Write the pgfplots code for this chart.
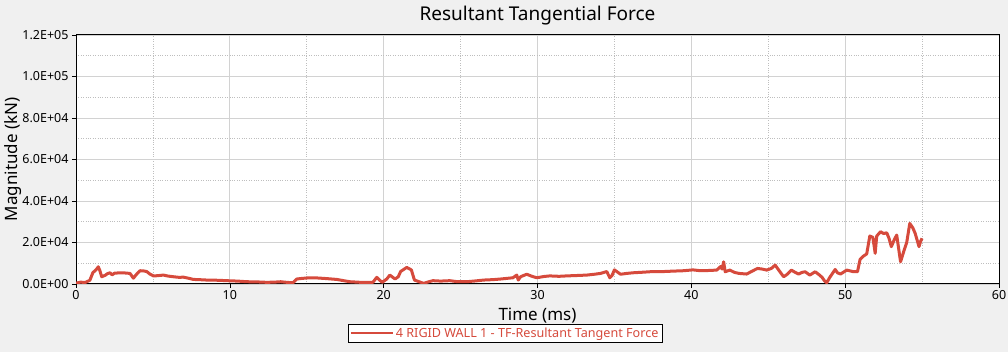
\documentclass[border=0pt]{standalone}
\usepackage{pgfplots}
\pgfplotsset{compat=1.18}
\usepackage{fontspec}
\setmainfont{Noto Sans}
\definecolor{bg}{RGB}{240,240,240}
\definecolor{curve}{RGB}{214,74,60}
\definecolor{majgrid}{RGB}{210,210,210}
\definecolor{mingrid}{RGB}{190,190,190}
\begin{document}
\begin{tikzpicture}[x=1pt,y=1pt]
\fill[bg] (-76,-68) rectangle (932,284);
\begin{axis}[
  at={(0,0)}, anchor=south west,
  scale only axis, width=923pt, height=249pt,
  xmin=0, xmax=60, ymin=0, ymax=120000,
  axis background/.style={fill=white},
  xtick={0,10,...,60},
  minor xtick={5,15,...,55},
  ytick={0,20000,...,120000},
  minor ytick={10000,30000,...,110000},
  yticklabels={0.0E+00,2.0E+04,4.0E+04,6.0E+04,8.0E+04,1.0E+05,1.2E+05},
  scaled y ticks=false,
  grid=both,
  major grid style={majgrid, line width=0.8pt},
  minor grid style={mingrid, dotted, line width=0.7pt},
  tick style={black, line width=0.6pt},
  major tick length=4pt, minor tick length=0pt,
  tick align=outside,
  xtick pos=bottom, ytick pos=left,
  axis line style={black, line width=1pt},
  ticklabel style={font=\fontsize{12.5}{14}\selectfont},
  /pgf/number format/assume math mode=true,
  xticklabel style={yshift=1pt},
  title={Resultant Tangential Force},
  title style={font=\fontsize{19}{22}\selectfont, yshift=0pt},
  xlabel={Time (ms)},
  xlabel style={font=\fontsize{17}{20}\selectfont, yshift=-1pt},
  ylabel={Magnitude (kN)},
  ylabel style={font=\fontsize{17}{20}\selectfont, yshift=-6pt},
  legend style={at={(0.465,-0.161)}, anchor=north, draw=black, fill=white,
    font=\fontsize{12.6}{14}\selectfont, text=curve, inner sep=1.5pt,
    legend cell align=left},
  legend image code/.code={\draw[#1, line width=2pt] (0pt,0pt) -- (42pt,0pt);},
]
\addplot[curve, line width=3pt, line join=round] coordinates {
(0,400)(0.3,900)(0.6,700)(0.9,1800)(1.1,5500)(1.3,6800)(1.45,8300)(1.55,6500)(1.67,3500)(1.9,4200)(2.05,5000)(2.21,5400)(2.35,4400)(2.5,5200)(2.86,5400)(3.2,5300)(3.51,5100)(3.73,2800)(3.95,4800)(4.16,6400)(4.4,6300)(4.6,6000)(4.8,4800)(5.03,3900)(5.3,4000)(5.68,4300)(6.0,3800)(6.33,3500)(6.7,3200)(6.98,3300)(7.3,2800)(7.63,2200)(8.0,2100)(8.5,1900)(9.2,1800)(9.8,1600)(10.5,1400)(11.1,1100)(11.8,1000)(12.4,800)(12.9,900)(13.3,1100)(13.7,800)(14.1,600)(14.35,2400)(14.7,2700)(15.2,3000)(15.7,2900)(16.3,2600)(16.95,2200)(17.4,1600)(17.8,1100)(18.5,800)(19.3,800)(19.55,3200)(19.75,1800)(19.9,800)(20.2,2400)(20.4,4300)(20.74,2400)(20.95,3500)(21.1,6000)(21.5,8000)(21.8,6800)(22.0,1900)(22.3,1100)(22.6,300)(22.9,1000)(23.2,1600)(23.7,1400)(24.3,1600)(24.8,1100)(25.4,1100)(26.0,1500)(26.5,1900)(27.1,2100)(27.6,2400)(28.0,2700)(28.4,3000)(28.65,4300)(28.75,1900)(28.9,3500)(29.3,4700)(29.6,3800)(29.95,3000)(30.4,3600)(30.8,3900)(31.4,3700)(31.9,3900)(32.6,4100)(33.2,4300)(33.7,4700)(34.1,5100)(34.5,6000)(34.7,3000)(34.85,4200)(35.0,6800)(35.4,4700)(35.8,5100)(36.2,5400)(36.9,5700)(37.5,6000)(38.2,6000)(38.8,6200)(39.5,6400)(40.1,6800)(40.6,6400)(41.1,6500)(41.65,6700)(41.9,8400)(42.0,7200)(42.1,10700)(42.2,5900)(42.5,6700)(42.8,5600)(43.1,5100)(43.6,4800)(43.9,6000)(44.3,7500)(44.6,7200)(44.9,6700)(45.2,7500)(45.45,9100)(45.7,6500)(46.0,3500)(46.2,4500)(46.5,6700)(46.75,5600)(46.97,4800)(47.2,5600)(47.4,5900)(47.7,4300)(48.05,5900)(48.3,4500)(48.5,3200)(48.65,1600)(48.8,600)(49.0,3200)(49.35,7000)(49.5,5400)(49.7,4800)(50.1,6700)(50.5,6000)(50.8,5900)(50.97,11900)(51.2,13500)(51.4,14500)(51.6,23100)(51.8,22500)(51.95,14800)(52.05,23100)(52.3,25200)(52.5,24300)(52.7,24700)(52.85,22000)(53.0,18000)(53.2,21500)(53.35,23600)(53.6,10700)(53.8,15500)(54.0,20000)(54.2,29200)(54.4,27000)(54.55,24400)(54.8,18000)(54.9,20500)(55.0,22000)
};
\addlegendentry{4 RIGID WALL 1 - TF-Resultant Tangent Force}
\end{axis}
\pgfresetboundingbox
\path (-76,-68) rectangle (932,284);
\end{tikzpicture}
\end{document}
